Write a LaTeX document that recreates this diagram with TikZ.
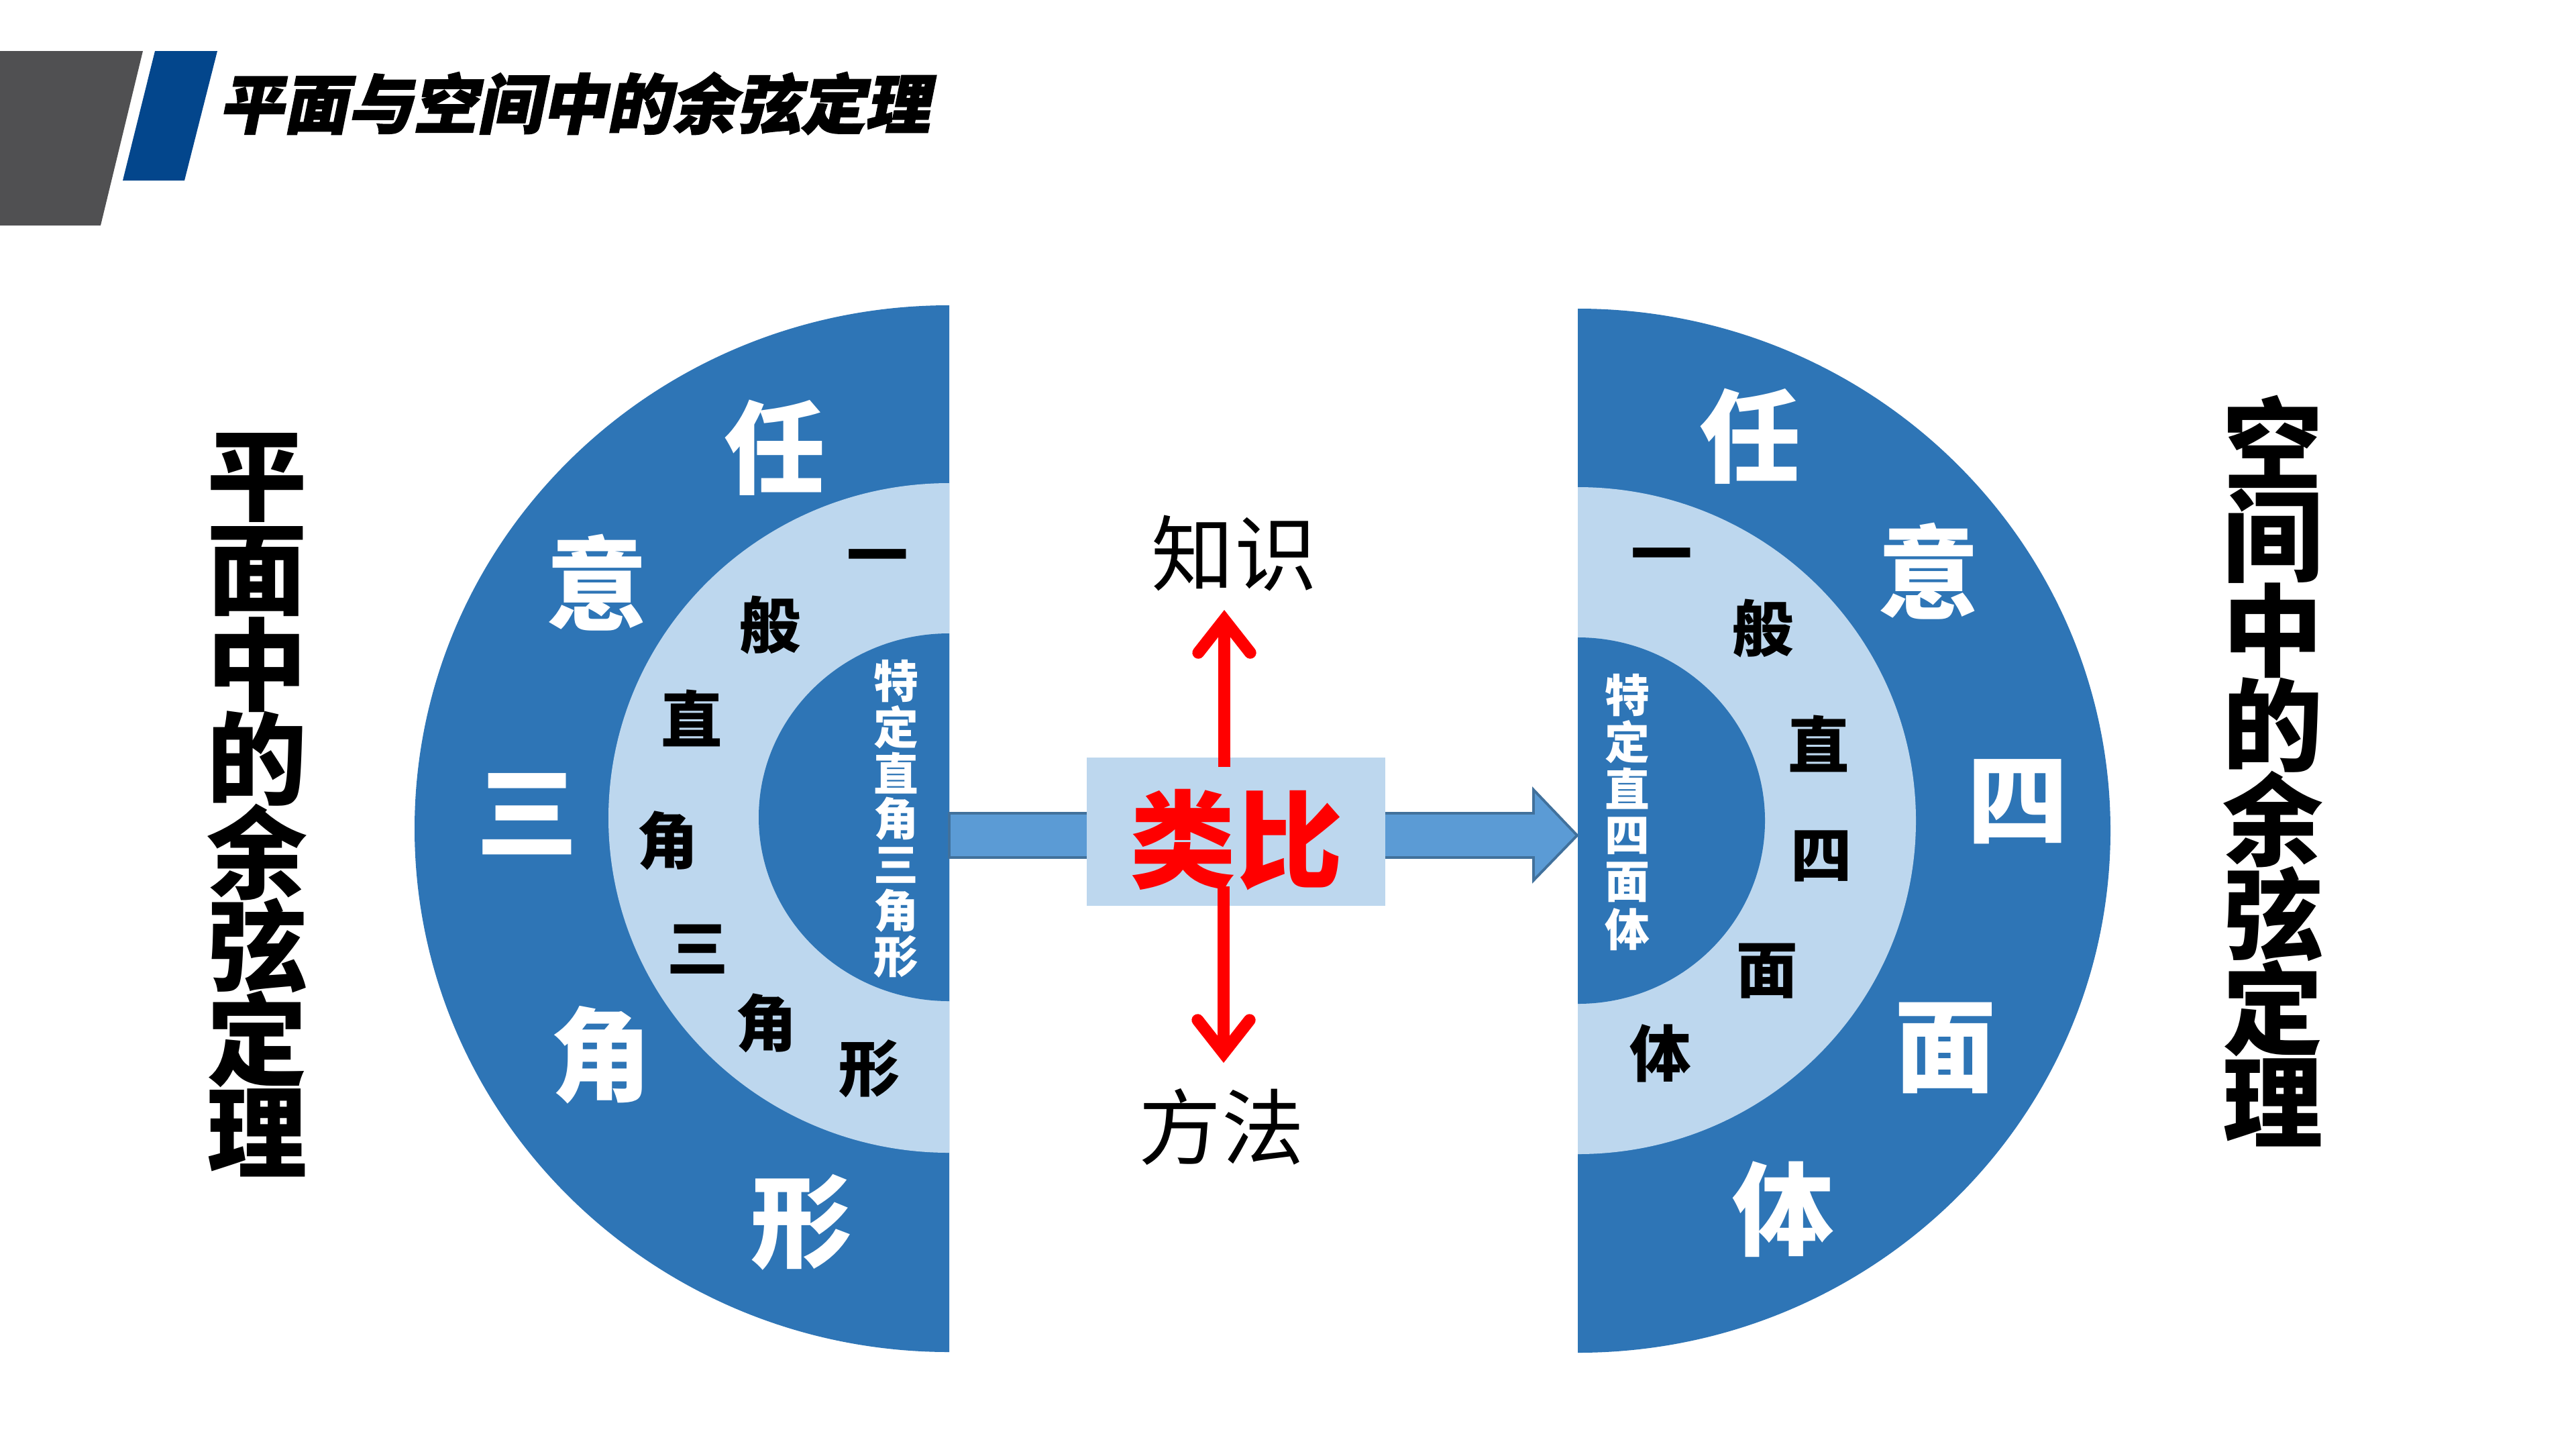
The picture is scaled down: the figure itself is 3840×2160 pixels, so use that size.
\documentclass[tikz,border=0pt]{standalone}
\usepackage{fontspec}
\usetikzlibrary{arrows.meta}
\newfontfamily\cjk{Noto Sans CJK SC}
\newfontfamily\cjktitle{Noto Sans CJK SC}[FakeSlant=0.2,FakeBold=2,BoldFeatures={FakeSlant=0.2,FakeBold=2}]
\newcommand\fsz[1]{\fontsize{#1}{#1}\selectfont}
\definecolor{darkring}{HTML}{2E75B6}
\definecolor{lightring}{HTML}{BDD7EE}
\definecolor{arrowfill}{HTML}{5B9BD5}
\definecolor{arrowline}{HTML}{41719C}
\definecolor{hdrgray}{HTML}{505052}
\definecolor{hdrblue}{HTML}{03468C}
\tikzset{
  ringouter/.style={font=\cjk\bfseries\fsz{43}, text=white, inner sep=0pt},
  ringmid/.style={font=\cjk\bfseries\fsz{26}, text=black, inner sep=0pt},
  ringinner/.style={font=\cjk\bfseries\fsz{19}, text=white, inner sep=0pt},
  sidechar/.style={font=\cjk\bfseries\fsz{42.5}, text=black, inner sep=0pt},
  lbltext/.style={font=\cjk\fsz{35}, text=black, inner sep=0pt},
  analogytext/.style={font=\cjk\bfseries\fsz{45}, text=red, inner sep=0pt},
  redarrow/.style={draw=red, line width=5.1pt, -{Straight Barb[length=14pt,width=22pt,line cap=round,line join=miter]}},
}
\begin{document}
\begin{tikzpicture}[x=0.01cm,y=-0.01cm]
\useasboundingbox (0,0) rectangle (3840,2160);
\fill[white] (0,0) rectangle (3840,2160);
% header
\fill[hdrgray] (0,76) -- (213,76) -- (150,336) -- (0,336) -- cycle;
\fill[hdrblue] (231,76) -- (324,76) -- (275,269) -- (183,269) -- cycle;
\node[font=\cjktitle\bfseries\fsz{27.4}, inner sep=0pt] (title) at (856,154) {平面与空间中的余弦定理};
% left half disk
\begin{scope}
\clip (0,0) rectangle (1415,2160);
\fill[darkring] (1415,1235) ellipse [x radius=797, y radius=780];
\fill[lightring] (1415,1219) ellipse [x radius=508, y radius=499];
\fill[darkring] (1415,1218) ellipse [x radius=284, y radius=274];
\end{scope}
% right half disk
\begin{scope}
\clip (2352,0) rectangle (3840,2160);
\fill[darkring] (2352,1238) ellipse [x radius=794, y radius=778];
\fill[lightring] (2352,1223) ellipse [x radius=504, y radius=497];
\fill[darkring] (2352,1223) ellipse [x radius=279, y radius=273];
\end{scope}
% block arrow
\draw[draw=arrowline, fill=arrowfill, line width=1.1pt, line join=miter]
  (1415,1212) -- (2286,1212) -- (2286,1177) -- (2351,1245) -- (2286,1312) -- (2286,1278) -- (1415,1278) -- cycle;
\node[fill=lightring, minimum width=4.45cm, minimum height=2.21cm, inner sep=0pt] (box) at (1842.5,1239.5) {};
\node[analogytext] (lei) at (1843,1252) {类比};
\node[lbltext] (zhishi) at (1840,825) {知识};
\node[lbltext] (fangfa) at (1821,1679) {方法};
\coordinate (ua) at (1825,1143);
\coordinate (ut) at (1825,909);
\coordinate (da) at (1824,1321);
\coordinate (dt) at (1824,1584);
\draw[redarrow] (ua) -- (ut);
\draw[redarrow] (da) -- (dt);
% left outer ring
\node[ringouter] (lo1) at (1155,667) {任};
\node[ringouter] (lo2) at (890,868) {意};
\node[ringouter] (lo3) at (786,1213) {三};
\node[ringouter] (lo4) at (896,1572) {角};
\node[ringouter] (lo5) at (1195,1822) {形};
% left middle ring
\node[ringmid] (lm1) at (1308,840) {一};
\node[ringmid] (lm2) at (1148,932) {般};
\node[ringmid] (lm3) at (1031,1070) {直};
\node[ringmid] (lm4) at (995,1253) {角};
\node[ringmid] (lm5) at (1040,1415) {三};
\node[ringmid] (lm6) at (1142,1525) {角};
\node[ringmid] (lm7) at (1296,1593) {形};
% left inner
\foreach \c [count=\i] in {特,定,直,角,三,角,形}
  \node[ringinner] (li\i) at (1336,{1015+(\i-1)*68.5}) {\c};
% right outer ring
\node[ringouter] (ro1) at (2609,650) {任};
\node[ringouter] (ro2) at (2875,851) {意};
\node[ringouter] (ro3) at (3008,1195) {四};
\node[ringouter] (ro4) at (2900,1562) {面};
\node[ringouter] (ro5) at (2658,1802) {体};
% right middle ring
\node[ringmid] (rm1) at (2477,838) {一};
\node[ringmid] (rm2) at (2628,937) {般};
\node[ringmid] (rm3) at (2711,1108) {直};
\node[ringmid] (rm4) at (2715,1276) {四};
\node[ringmid] (rm5) at (2634,1447) {面};
\node[ringmid] (rm6) at (2475,1570) {体};
% right inner
\foreach \c [count=\i] in {特,定,直,四,面,体}
  \node[ringinner] (ri\i) at (2426,{1036+(\i-1)*69.8}) {\c};
% side titles
\foreach \c [count=\i] in {平,面,中,的,余,弦,定,理}
  \node[sidechar] (lt\i) at (383,{712+(\i-1)*139.5}) {\c};
\foreach \c [count=\i] in {空,间,中,的,余,弦,定,理}
  \node[sidechar] (rt\i) at (3388,{658+(\i-1)*140.75}) {\c};
\end{tikzpicture}
\end{document}
